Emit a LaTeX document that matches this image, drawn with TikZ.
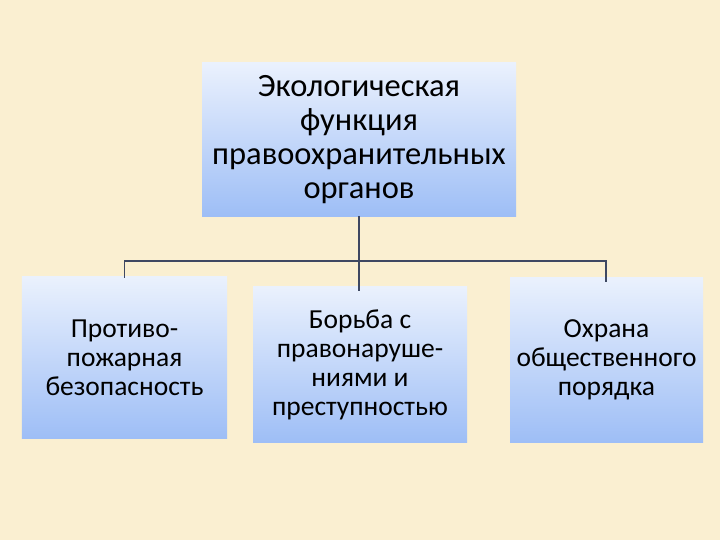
\documentclass[tikz,border=0pt]{standalone}
\usepackage{fontspec}
\setmainfont{Carlito}
\usepackage{xcolor}
\usetikzlibrary{positioning}
\definecolor{paper}{RGB}{250,239,209}
\definecolor{boxtop}{RGB}{234,241,253}
\definecolor{boxbot}{RGB}{158,190,246}
\definecolor{linkgray}{RGB}{62,72,98}

\tikzset{
  orgbox/.style={top color=boxtop, bottom color=boxbot, draw=none,
                 align=center, inner sep=2bp},
  link/.style={draw=linkgray, line width=1.6bp}
}

\begin{document}
\begin{tikzpicture}[x=1bp, y=-1bp]
    \fill[paper] (0,0) rectangle (720,540);
    \useasboundingbox (0,0) rectangle (720,540);

    \node[orgbox, minimum width=314bp, minimum height=153bp,
          font=\fontsize{32.5bp}{34bp}\selectfont] (func) at (359,139.5) {
      Экологическая\\
      функция\\
      правоохранительных\\
      органов
    };

    \node[orgbox, minimum width=205bp, minimum height=161bp,
          font=\fontsize{27.5bp}{29bp}\selectfont] (fire) at (124.5,357.5) {
      Противо-\\
      пожарная\\
      безопасность
    };
    \node[orgbox, minimum width=214bp, minimum height=155bp,
          font=\fontsize{27.5bp}{29bp}\selectfont] (crime) at (360,364.5) {
      Борьба с\\
      правонаруше-\\
      ниями и\\
      преступностью
    };
    \node[orgbox, minimum width=193bp, minimum height=164bp,
          font=\fontsize{27.5bp}{29bp}\selectfont] (order) at (606.5,360) {
      Охрана\\
      общественного\\
      порядка
    };

    % shared bus under the top box
    \coordinate (bus) at (359,261);
    \draw[link] (func.south) -- (bus);
    \draw[link] (bus) -| ([yshift=-1bp]fire.north);
    \draw[link] (bus) -| ([yshift=-4bp]order.north -| 606,0);
    \draw[link] (bus) -- ([yshift=-4bp]crime.north -| bus);
  \end{tikzpicture}
\end{document}
